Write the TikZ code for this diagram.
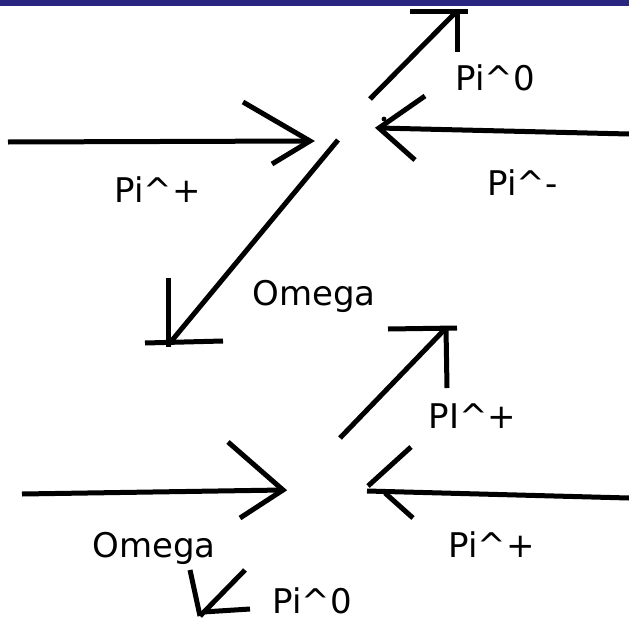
\documentclass[tikz,border=0pt]{standalone}
\usepackage{fontspec}
\setmainfont{DejaVu Sans}
\usepackage{tikz}
\usetikzlibrary{positioning}
\definecolor{barblue}{RGB}{40,38,128}

\begin{document}
\begin{tikzpicture}[x=1pt, y=-1pt, line width=5pt,
  every node/.style={font=\fontsize{34}{40}\selectfont, inner sep=0pt, anchor=base west},
  stroke/.style={draw=black, line width=5pt}]
\useasboundingbox (0,0) rectangle (629,621);
\fill[barblue] (0,0) rectangle (629,6);
% top vertex
\coordinate (pipS) at (8,142);   \coordinate (pipT) at (310,141);
\coordinate (omS)  at (338,140); \coordinate (omT)  at (169,344);
\coordinate (pizS) at (370,99);  \coordinate (pizT) at (457,11);
\coordinate (pimS) at (629,134); \coordinate (pimT) at (379,128);
\node (lPip) at (112,202) {Pi\textasciicircum+};
\node (lOm)  at (250,305) {Omega};
\node (lPiz) at (453,90)  {Pi\textasciicircum0};
\node (lPim) at (485,195) {Pi\textasciicircum-};
\draw[stroke] (pipS) -- (pipT);
\draw[stroke] (243,102) -- (pipT) -- (272,164);
\draw[stroke] (omS) -- (omT);
\draw[stroke] (168,278) -- (168,347);
\draw[stroke] (145,343) -- (223,341);
\draw[stroke] (pizS) -- (pizT);
\draw[stroke] (410,11) -- (468,11);
\draw[stroke] (pizT) -- (457,52);
\draw[stroke] (pimS) -- (pimT);
\draw[stroke] (425,96) -- (pimT) -- (415,160);
\fill (384,119) circle (2.4pt);
% bottom vertex
\coordinate (omBS)  at (22,494);  \coordinate (omBT)  at (283,490);
\coordinate (pipBS) at (340,438); \coordinate (pipBT) at (446,328);
\coordinate (pirS)  at (629,498); \coordinate (pirT)  at (367,491);
\coordinate (pizBS) at (245,570); \coordinate (pizBT) at (200,616);
\node (lOmB)  at (90,557)  {Omega};
\node (lPipB) at (426,428) {PI\textasciicircum+};
\node (lPir)  at (446,557) {Pi\textasciicircum+};
\node (lPizB) at (270,613) {Pi\textasciicircum0};
\draw[stroke] (omBS) -- (omBT);
\draw[stroke] (228,442) -- (omBT) -- (240,518);
\draw[stroke] (pipBS) -- (pipBT);
\draw[stroke] (388,329) -- (457,328);
\draw[stroke] (pipBT) -- (447,388);
\draw[stroke] (pirS) -- (pirT);
\draw[stroke] (411,447) -- (368,486);
\draw[stroke] (385,493) -- (413,518);
\draw[stroke] (pizBS) -- (pizBT);
\draw[stroke] (190,570) -- (pizBT);
\draw[stroke] (203,612) -- (250,609);
\end{tikzpicture}
\end{document}
